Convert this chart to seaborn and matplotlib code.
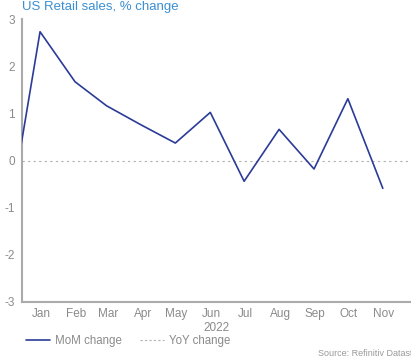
import matplotlib
matplotlib.use("Agg")
import matplotlib.pyplot as plt
import matplotlib.dates as mdates
from matplotlib.lines import Line2D
import seaborn as sns
import pandas as pd
import numpy as np

months = ["2021-12-15", "2022-01-15", "2022-02-15", "2022-03-15", "2022-04-15", "2022-05-15",
          "2022-06-15", "2022-07-15", "2022-08-15", "2022-09-15", "2022-10-15", "2022-11-15"]
mom_change = [-1.7, 2.73, 1.67, 1.16, 0.75, 0.37, 1.02, -0.44, 0.66, -0.18, 1.31, -0.59]
month_labels = ["Jan", "Feb", "Mar", "Apr", "May", "Jun", "Jul", "Aug", "Sep", "Oct", "Nov"]
y_ticks = [-3, -2, -1, 0, 1, 2, 3]

df = pd.DataFrame({"date": pd.to_datetime(months), "MoM change": mom_change})

sns.set_theme(style="white")
plt.rcParams['font.family'] = ['Liberation Sans', 'DejaVu Sans']

fig = plt.figure(figsize=(4.11, 3.56), dpi=100)
ax = fig.add_axes([22/411, 1-302/356, 1-22/411, (302-19)/356])

navy = "#2b3b98"
grey = "#999999"
txt = "#8a8a8a"

ax.axhline(0, color="#b0b0b0", lw=0.8, ls=(0, (2, 3)), zorder=1)
sns.lineplot(data=df, x="date", y="MoM change", ax=ax, color=navy, lw=1.2, zorder=3)

ax.set_xlim(pd.Timestamp("2021-12-30"), pd.Timestamp("2022-12-10"))
ax.set_ylim(-3, 3)
ax.set_yticks(y_ticks)
ax.set_yticklabels([str(v) for v in y_ticks], color=txt, fontsize=8.5)
ax.tick_params(axis="y", length=0, pad=5)

ax.xaxis.set_major_locator(mdates.MonthLocator())
ax.xaxis.set_major_formatter(plt.NullFormatter())
ax.tick_params(axis="x", which="major", length=3, width=1, color=grey, direction="out")
for d, lab in zip(pd.date_range("2022-01-01", periods=11, freq="MS") + pd.Timedelta(days=15), month_labels):
    ax.text(d, -0.022, lab, transform=ax.get_xaxis_transform(), ha="center", va="top",
            color=txt, fontsize=8.5)
ax.text(0.5, -0.072, "2022", transform=ax.transAxes, ha="center", va="top", color=txt, fontsize=8.5)

ax.set_xlabel("")
ax.set_ylabel("")
for s in ["top", "right"]:
    ax.spines[s].set_visible(False)
for s in ["left", "bottom"]:
    ax.spines[s].set_color("#aaaaaa")
    ax.spines[s].set_linewidth(1.5)

fig.text(22/411, 1.0 - 1/356, "US Retail sales, % change", color="#3a8fd2", fontsize=9.5,
         ha="left", va="top")

handles = [Line2D([], [], color=navy, lw=1.2),
           Line2D([], [], color="#b0b0b0", lw=0.8, ls=(0, (2, 2)))]
fig.legend(handles, ["MoM change", "YoY change"], loc="center left",
           bbox_to_anchor=(26/411, 1-341/356), ncol=2, frameon=False, fontsize=8.3,
           labelcolor=txt, handlelength=2.1, handletextpad=0.4, columnspacing=1.6,
           borderaxespad=0, borderpad=0)

fig.text(318/411, 1-358/356, "Source: Refinitiv Datastream", color="#999999", fontsize=6.5,
         ha="left", va="bottom")

fig.savefig("out.png", dpi=100)
